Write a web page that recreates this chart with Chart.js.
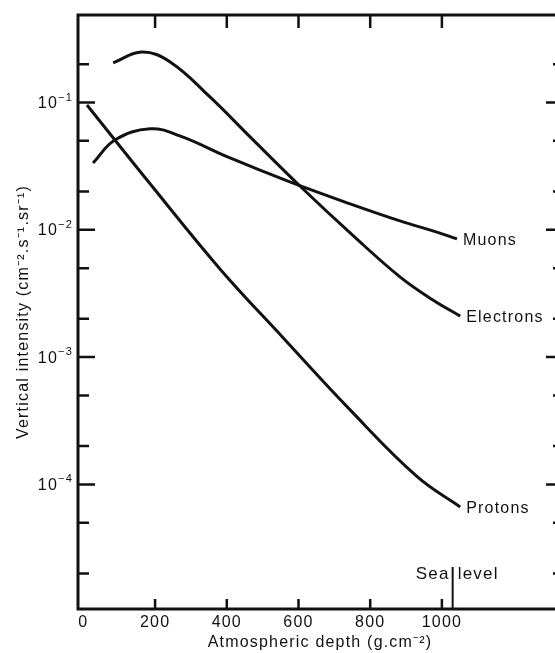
<!DOCTYPE html>
<html>
<head>
<meta charset="utf-8">
<script src="https://cdn.jsdelivr.net/npm/chart.js@4"></script>
<style>
html,body{margin:0;padding:0;background:#fff;overflow:hidden;}
#wrap{width:565px;height:653px;position:relative;}
</style>
</head>
<body>
<div id="wrap"><canvas id="chart"></canvas></div>
<script>
// depth in g/cm2, intensity in cm-2 s-1 sr-1
const electronsDepth=[83, 163, 242, 353, 465, 604, 744, 883, 975, 1051];
const electronsFlux=[0.2046, 0.249, 0.2085, 0.1107, 0.0537, 0.0221, 0.00946, 0.00427, 0.00281, 0.0021];
const muonsDepth=[27, 88, 186, 269, 409, 576, 744, 883, 975, 1042];
const muonsFlux=[0.0335, 0.0508, 0.0621, 0.0547, 0.0367, 0.0238, 0.016, 0.01175, 0.0098, 0.00848];
const protonsDepth=[10, 186, 381, 557, 744, 931, 1051];
const protonsFlux=[0.0957, 0.023, 0.00493, 0.00142, 0.000385, 0.000115, 0.0000665];

const depthTicks=[0, 200, 400, 600, 800, 1000];
const innerDepthTicks=[200, 400, 600, 800, 1000];
const majorFlux=[1e-1, 1e-2, 1e-3, 1e-4];
const majorExp=["−1", "−2", "−3", "−4"];
const minorFlux=[2e-1, 5e-2, 2e-2, 5e-3, 2e-3, 5e-4, 2e-4, 5e-5, 2e-5];
const seriesNames=["Muons", "Electrons", "Protons"];
const seaLevelDepth=1030;

const FONT="'Liberation Sans', Arial, sans-serif";
const INK="#111";

function pts(xs, ys){
  return xs.map((x, i)=>({x: x, y: ys[i]}));
}

const axesPlugin={
  id: "axes",
  beforeDraw(chart){
    chart.ctx.letterSpacing="1.2px";
  },
  afterDraw(chart){
    const {ctx, chartArea: a, scales: {x, y}}=chart;
    ctx.save();
    ctx.strokeStyle=INK;
    ctx.fillStyle=INK;
    ctx.lineWidth=3;
    ctx.lineCap="square";
    ctx.beginPath();
    ctx.moveTo(a.right+10, a.top);
    ctx.lineTo(a.left, a.top);
    ctx.lineTo(a.left, a.bottom);
    ctx.lineTo(a.right+10, a.bottom);
    ctx.stroke();

    ctx.lineCap="butt";
    ctx.lineWidth=2.5;
    ctx.beginPath();
    majorFlux.forEach(v=>{
      const py=y.getPixelForValue(v);
      ctx.moveTo(a.left, py); ctx.lineTo(a.left+17, py);
      ctx.moveTo(a.right, py); ctx.lineTo(a.right-16, py);
    });
    minorFlux.forEach(v=>{
      const py=y.getPixelForValue(v);
      ctx.moveTo(a.left, py); ctx.lineTo(a.left+11, py);
      ctx.moveTo(a.right, py); ctx.lineTo(a.right-9, py);
    });
    innerDepthTicks.forEach(d=>{
      const px=x.getPixelForValue(d);
      ctx.moveTo(px, a.top); ctx.lineTo(px, a.top+13);
      ctx.moveTo(px, a.bottom); ctx.lineTo(px, a.bottom-10);
    });
    ctx.stroke();

    // y tick labels 10^n
    ctx.textBaseline="middle";
    ctx.textAlign="right";
    majorFlux.forEach((v, i)=>{
      const py=y.getPixelForValue(v);
      ctx.font="11px "+FONT;
      ctx.fillText(majorExp[i], 73, py-5);
      const w=ctx.measureText(majorExp[i]).width;
      ctx.font="16px "+FONT;
      ctx.fillText("10", 73-w, py+1);
    });

    // sea level marker
    const sx=x.getPixelForValue(seaLevelDepth);
    ctx.lineWidth=2;
    ctx.beginPath();
    ctx.moveTo(sx, a.bottom); ctx.lineTo(sx, a.bottom-42);
    ctx.stroke();
    ctx.font="17px "+FONT;
    ctx.textAlign="right";
    ctx.fillText("Sea", sx-3, a.bottom-35);
    ctx.textAlign="left";
    ctx.fillText("level", sx+5, a.bottom-35);

    // curve labels at the end of each curve
    ctx.font="16px "+FONT;
    chart.data.datasets.forEach((ds, i)=>{
      const last=ds.data[ds.data.length-1];
      ctx.fillText(seriesNames[i], x.getPixelForValue(last.x)+6, y.getPixelForValue(last.y)+2);
    });
    ctx.restore();
  }
};

const lineStyle={
  borderColor: INK,
  borderWidth: 3,
  pointRadius: 0,
  fill: false,
  tension: 0.4,
};

new Chart(document.getElementById("chart"), {
  type: "line",
  data: {
    datasets: [
      Object.assign({label: seriesNames[0], data: pts(muonsDepth, muonsFlux)}, lineStyle),
      Object.assign({label: seriesNames[1], data: pts(electronsDepth, electronsFlux)}, lineStyle),
      Object.assign({label: seriesNames[2], data: pts(protonsDepth, protonsFlux)}, lineStyle),
    ]
  },
  options: {
    responsive: true,
    maintainAspectRatio: false,
    animation: false,
    layout: {padding: {top: 15, right: 3, left: 0, bottom: 0}},
    plugins: {legend: {display: false}, tooltip: {enabled: false}},
    scales: {
      x: {
        type: "linear",
        min: -15,
        max: 1335,
        grid: {display: false, drawTicks: false},
        border: {display: false},
        afterBuildTicks: s=>{ s.ticks=depthTicks.map(v=>({value: v})); },
        afterFit: s=>{ s.height=44; },
        ticks: {
          color: INK,
          font: {family: FONT, size: 16},
          padding: 4,
          maxRotation: 0,
          autoSkip: false,
          callback: v=>String(v),
        },
        title: {
          display: true,
          text: "Atmospheric depth (g.cm⁻²)",
          color: INK,
          font: {family: FONT, size: 16},
          padding: {top: 0, bottom: 1},
        }
      },
      y: {
        type: "logarithmic",
        min: 1.05e-5,
        max: 0.487,
        grid: {display: false, drawTicks: false},
        border: {display: false},
        ticks: {display: false},
        afterFit: s=>{ s.width=78; },
        title: {
          display: true,
          text: "Vertical intensity (cm⁻².s⁻¹.sr⁻¹)",
          color: INK,
          font: {family: FONT, size: 16},
          padding: {top: 14, bottom: 0},
        }
      }
    }
  },
  plugins: [axesPlugin],
});
</script>
</body>
</html>
